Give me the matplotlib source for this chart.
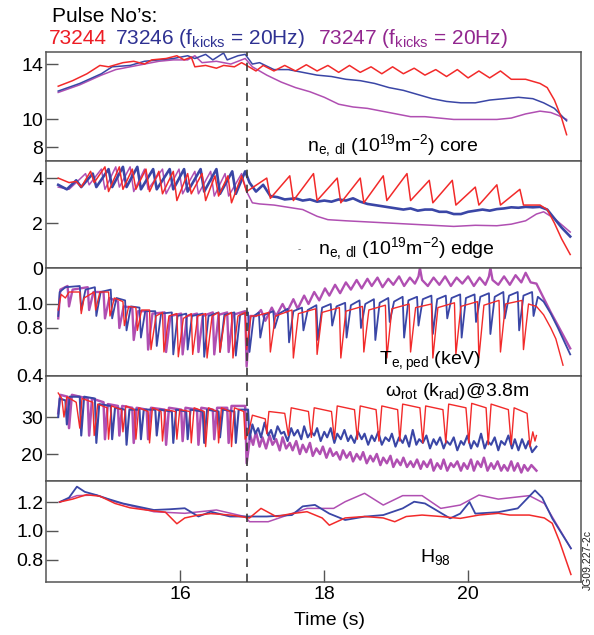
import numpy as np
import matplotlib
matplotlib.use("Agg")
import matplotlib.pyplot as plt

plt.rcParams['font.family'] = ['Liberation Sans', 'DejaVu Sans']
plt.rcParams['mathtext.default'] = 'regular'

# ---------------- data (time s, value) ----------------
time_ticks = [16, 18, 20]
time_tick_labels = ["16", "18", "20"]
dashed_time = 16.92

# panel 1: core line-integrated density
core_ticks = [8, 10, 14]
core_labels = ["8", "10", "14"]
red_core = [(14.30,12.4),(14.5,12.8),(14.7,13.3),(14.88,13.9),(15.0,13.8),(15.2,14.1),(15.35,14.2),(15.5,14.0),
            (15.6,14.3),(15.8,14.4),(15.95,14.6),(16.05,14.3),(16.15,14.5),(16.2,13.8),(16.35,13.9),(16.5,13.7),
            (16.6,13.9),(16.75,13.8),(16.85,14.1),(16.92,13.9),(17.05,13.5),(17.15,13.9),(17.3,13.5),(17.45,13.9),
            (17.6,13.5),(17.75,13.95),(17.9,13.5),(18.05,13.9),(18.2,13.4),(18.35,13.9),(18.5,13.4),(18.65,13.8),
            (18.8,13.3),(18.95,13.8),(19.1,13.3),(19.25,13.7),(19.4,13.2),(19.55,13.6),(19.7,13.1),(19.85,13.6),
            (20.0,13.0),(20.15,13.5),(20.3,13.0),(20.45,13.5),(20.6,12.9),(20.8,12.9),(21.0,12.6),(21.1,12.3),
            (21.2,11.4),(21.3,10.1),(21.37,8.9)]
blue_core = [(14.30,12.05),(14.6,12.6),(14.9,13.3),(15.05,13.8),(15.3,13.9),(15.5,14.2),(15.7,14.3),(15.9,14.4),
             (16.1,14.6),(16.2,14.4),(16.35,14.7),(16.45,14.3),(16.6,14.8),(16.65,14.3),(16.8,14.6),(16.9,14.7),
             (17.0,14.0),(17.1,14.1),(17.3,13.6),(17.5,13.6),(17.7,13.4),(17.9,13.2),(18.1,13.1),(18.3,12.9),
             (18.5,12.8),(18.7,12.6),(18.9,12.3),(19.1,12.1),(19.3,11.8),(19.5,11.5),(19.7,11.3),(19.9,11.2),
             (20.1,11.2),(20.3,11.4),(20.5,11.5),(20.7,11.6),(20.9,11.5),(21.05,11.2),(21.2,10.8),(21.37,9.9)]
purple_core = [(14.30,11.95),(14.6,12.5),(14.9,13.2),(15.1,13.6),(15.3,13.8),(15.5,14.0),(15.7,14.2),(15.9,14.3),
               (16.1,14.3),(16.2,14.6),(16.3,14.1),(16.5,14.2),(16.7,14.0),(16.9,14.4),(17.0,13.8),(17.2,13.2),
               (17.4,12.7),(17.6,12.3),(17.8,12.0),(18.0,11.6),(18.2,11.1),(18.4,10.9),(18.6,10.8),(18.8,10.6),
               (19.0,10.4),(19.2,10.2),(19.4,10.2),(19.6,10.1),(19.8,10.0),(20.0,10.0),(20.2,10.0),(20.4,10.0),
               (20.6,10.1),(20.8,10.4),(21.0,10.6),(21.15,10.5),(21.25,10.3),(21.37,10.0)]

# panel 2: edge line-integrated density
edge_ticks = [0, 2, 4]
edge_labels = ["0", "2", "4"]
red_edge = [(14.30,4.0),(14.45,3.8),(14.55,3.85),(14.62,3.6),(14.75,4.3),(14.80,3.8),(14.95,4.5),(15.00,3.4),
            (15.15,4.5),(15.20,3.5),(15.33,4.4),(15.38,3.5),(15.52,4.4),(15.57,3.4),(15.70,4.3),(15.75,3.3),
            (15.90,4.3),(15.95,3.0),(16.10,4.2),(16.15,3.3),(16.30,4.2),(16.35,3.0),(16.48,4.1),(16.53,3.2),
            (16.66,4.1),(16.71,2.9),(16.85,4.1),(16.92,3.4),(17.20,4.0),(17.25,3.1),(17.52,4.1),(17.57,3.0),
            (17.85,4.2),(17.90,3.0),(18.18,4.0),(18.23,2.9),(18.50,4.0),(18.55,2.9),(18.82,4.1),(18.87,3.0),
            (19.15,4.2),(19.20,3.0),(19.46,3.9),(19.51,2.9),(19.78,3.9),(19.83,2.8),(20.10,3.6),(20.15,2.8),
            (20.40,3.7),(20.45,2.8),(20.72,3.5),(20.77,2.8),(21.0,2.8),(21.1,2.6),(21.2,2.0),(21.3,1.3),(21.42,0.6)]
blue_edge = [(14.30,3.7),(14.42,3.5),(14.55,3.9),(14.62,3.6),(14.78,4.2),(14.83,3.6),(15.0,4.4),(15.05,3.6),
             (15.2,4.5),(15.25,3.6),(15.40,4.5),(15.45,3.5),(15.62,4.4),(15.67,3.5),(15.85,4.4),(15.90,3.5),
             (16.05,4.4),(16.10,3.4),(16.28,4.4),(16.33,3.4),(16.50,4.4),(16.55,3.3),(16.72,4.3),(16.77,3.3),
             (16.90,4.3),(16.96,3.8),(17.05,3.4),(17.15,3.7),(17.25,3.2),(17.35,3.15),(17.45,3.05),(17.6,3.1),
             (17.7,3.0),(17.8,3.05),(17.9,2.95),(18.0,3.0),(18.1,2.95),(18.2,3.05),(18.3,3.0),(18.4,3.1),
             (18.5,2.95),(18.6,2.85),(18.7,2.8),(18.8,2.75),(18.9,2.7),(19.0,2.65),(19.1,2.6),(19.2,2.65),
             (19.3,2.55),(19.4,2.6),(19.5,2.6),(19.6,2.5),(19.7,2.5),(19.8,2.4),(19.9,2.4),(20.0,2.5),(20.1,2.55),
             (20.2,2.6),(20.3,2.55),(20.4,2.62),(20.5,2.65),(20.6,2.7),(20.7,2.68),(20.8,2.72),(20.9,2.7),
             (21.0,2.72),(21.1,2.6),(21.2,2.2),(21.3,1.8),(21.42,1.4)]
purple_edge = [(14.30,3.6),(14.45,3.5),(14.55,3.8),(14.68,4.2),(14.73,3.7),(14.90,4.4),(14.95,3.5),(15.1,4.5),
               (15.15,3.6),(15.3,4.5),(15.35,3.4),(15.5,4.4),(15.55,3.5),(15.75,4.4),(15.8,3.3),(15.98,4.4),
               (16.03,3.3),(16.2,4.3),(16.25,3.3),(16.42,4.3),(16.47,3.2),(16.62,4.2),(16.67,3.2),(16.85,4.2),
               (16.92,3.4),(17.0,2.9),(17.1,2.85),(17.3,2.8),(17.5,2.7),(17.7,2.6),(17.9,2.3),(18.05,2.15),
               (18.3,2.1),(18.6,2.05),(18.9,2.0),(19.2,1.95),(19.5,1.9),(19.8,1.85),(20.1,1.9),(20.4,1.88),
               (20.6,1.95),(20.8,2.1),(20.95,2.4),(21.05,2.5),(21.2,2.2),(21.42,1.6)]

# panel 3: pedestal electron temperature
te_ticks = [0.4, 0.8, 1.0]
te_labels = ["0.4", "0.8", "1.0"]
red_te = [(14.30,0.95),(14.34,1.08),(14.40,1.05),(14.45,1.1),(14.6,1.1),(14.62,0.92),(14.66,1.05),(14.80,1.1),
          (14.82,0.95),(14.88,1.1),(15.0,1.1),(15.02,0.9),(15.08,1.05),(15.2,1.02),(15.22,0.82),(15.28,0.98),
          (15.38,0.97),(15.40,0.78),(15.46,0.95),(15.57,0.95),(15.59,0.62),(15.66,0.9),(15.75,0.93),(15.77,0.6),
          (15.84,0.9),(15.95,0.92),(15.97,0.56),(16.04,0.88),(16.15,0.92),(16.17,0.58),(16.24,0.9),(16.35,0.92),
          (16.37,0.55),(16.44,0.9),(16.53,0.93),(16.55,0.6),(16.62,0.9),(16.71,0.93),(16.73,0.55),(16.80,0.9),
          (16.90,0.93),(16.92,0.62),(16.98,0.9),(17.05,0.9),(17.23,0.93),(17.25,0.6),(17.32,0.9),(17.55,0.95),
          (17.57,0.55),(17.64,0.92),(17.88,0.96),(17.90,0.58),(17.97,0.93),(18.21,0.97),(18.23,0.55),(18.30,0.94),
          (18.53,0.98),(18.55,0.6),(18.62,0.95),(18.85,0.99),(18.87,0.55),(18.94,0.96),(19.18,1.0),(19.20,0.6),
          (19.27,0.97),(19.49,1.0),(19.51,0.55),(19.58,0.97),(19.81,1.01),(19.83,0.58),(19.90,0.98),(20.13,1.02),
          (20.15,0.55),(20.22,0.99),(20.43,1.03),(20.45,0.6),(20.52,1.0),(20.75,1.03),(20.77,0.62),(20.84,1.0),
          (20.95,0.98),(21.05,0.91),(21.15,0.8),(21.22,0.71),(21.32,0.49)]
blue_te = [(14.30,0.9),(14.32,1.1),(14.4,1.14),(14.6,1.15),(14.62,0.95),(14.68,1.12),(14.81,1.14),(14.83,0.9),
           (14.89,1.1),(15.03,1.12),(15.05,0.88),(15.11,1.05),(15.23,1.03),(15.25,0.78),(15.31,0.98),(15.43,0.97),
           (15.45,0.72),(15.51,0.94),(15.65,0.94),(15.67,0.65),(15.73,0.92),(15.88,0.93),(15.90,0.58),(15.96,0.9),
           (16.08,0.92),(16.10,0.62),(16.16,0.9),(16.31,0.92),(16.33,0.56),(16.39,0.9),(16.53,0.93),(16.55,0.6),
           (16.61,0.91),(16.75,0.93),(16.77,0.57),(16.83,0.91),(16.94,0.93),(16.96,0.6),(17.02,0.9),
           (17.09,0.93),(17.11,0.72),(17.17,0.91),(17.29,0.94),(17.31,0.8),(17.37,0.92),(17.49,0.96),(17.51,0.68),
           (17.57,0.94),(17.69,0.97),(17.71,0.78),(17.77,0.95),(17.89,0.99),(17.91,0.7),(17.97,0.97),(18.09,1.0),
           (18.11,0.82),(18.17,0.98),(18.29,1.01),(18.31,0.72),(18.37,0.99),(18.49,1.03),(18.51,0.8),(18.57,1.0),
           (18.69,1.04),(18.71,0.7),(18.77,1.01),(18.89,1.05),(18.91,0.85),(18.97,1.02),(19.09,1.06),(19.11,0.72),
           (19.17,1.03),(19.29,1.06),(19.31,0.82),(19.37,1.04),(19.49,1.07),(19.51,0.75),(19.57,1.04),(19.69,1.07),
           (19.71,0.88),(19.77,1.05),(19.89,1.08),(19.91,0.72),(19.97,1.05),(20.09,1.08),(20.11,0.85),(20.17,1.06),
           (20.29,1.09),(20.31,0.75),(20.37,1.06),(20.49,1.1),(20.51,0.88),(20.57,1.07),(20.69,1.1),(20.71,0.78),
           (20.77,1.07),(20.89,1.1),(20.91,0.9),(20.97,1.06),(21.05,1.02),(21.15,0.92),(21.25,0.8),(21.42,0.58)]
purple_te = [(14.30,0.88),(14.33,1.12),(14.43,1.15),(14.45,0.98),(14.5,1.12),(14.71,1.14),(14.73,0.95),(14.79,1.1),
             (14.93,1.1),(14.95,0.88),(15.01,1.05),(15.13,1.02),(15.15,0.8),(15.21,0.98),(15.33,0.97),(15.35,0.7),
             (15.41,0.94),(15.53,0.94),(15.55,0.62),(15.61,0.92),(15.78,0.93),(15.80,0.6),(15.86,0.9),(16.01,0.92),
             (16.03,0.58),(16.09,0.9),(16.23,0.92),(16.25,0.6),(16.31,0.9),(16.45,0.93),(16.47,0.58),(16.53,0.91),
             (16.65,0.93),(16.67,0.6),(16.73,0.91),(16.90,0.94),(16.92,0.48),(16.97,0.9),(17.05,0.9),(17.12,0.95),
             (17.18,0.86),(17.27,0.97),(17.33,0.9),(17.42,1.0),(17.48,0.93),(17.57,1.04),(17.63,0.96),(17.72,1.07),
             (17.78,1.0),(17.86,1.1),(17.93,1.03),(18.01,1.13),(18.07,1.07),(18.15,1.16),(18.22,1.09),(18.3,1.18),
             (18.37,1.12),(18.45,1.2),(18.52,1.13),(18.6,1.21),(18.66,1.15),(18.74,1.22),(18.81,1.14),(18.89,1.21),
             (18.96,1.16),(19.04,1.23),(19.11,1.15),(19.19,1.22),(19.26,1.17),(19.31,1.23),(19.33,1.3),(19.36,1.2),
             (19.44,1.15),(19.52,1.22),(19.6,1.16),(19.68,1.23),(19.76,1.15),(19.84,1.22),(19.92,1.17),(20.0,1.23),
             (20.08,1.15),(20.16,1.22),(20.24,1.16),(20.29,1.23),(20.31,1.3),(20.34,1.2),(20.42,1.16),(20.5,1.23),
             (20.58,1.16),(20.66,1.24),(20.74,1.18),(20.8,1.26),(20.87,1.18),(20.95,1.17),(21.05,1.05),(21.15,0.93),
             (21.25,0.82),(21.42,0.63)]

# panel 4: rotation
rot_ticks = [20, 30]
rot_labels = ["20", "30"]
red_rot = [(14.30,36.5),(14.35,35),(14.38,30),(14.42,35.5),(14.55,34),(14.6,27),(14.63,35),(14.78,34),(14.8,25),
           (14.85,33.5),(14.98,32.5),(15.0,24),(15.04,33),(15.18,32),(15.2,26),(15.24,33),(15.36,32),(15.38,24),
           (15.42,32.5),(15.55,31.5),(15.57,23),(15.61,32.5),(15.73,31.5),(15.75,23.5),(15.79,32),(15.93,31.5),
           (15.95,24),(15.99,32),(16.13,31.5),(16.15,23),(16.19,32.5),(16.33,31.5),(16.35,22),(16.39,32.5),
           (16.51,31.5),(16.53,23),(16.57,32.5),(16.69,31.5),(16.71,22),(16.75,32.5),(16.88,31.5),(16.9,24),
           (16.95,26),(17.0,30.5),(17.18,29.5),(17.2,25.5),(17.23,31.5),(17.45,31),(17.5,25),(17.54,32.5),
           (17.78,31.5),(17.82,24.5),(17.86,32.5),(18.1,31.5),(18.14,24),(18.18,33),(18.42,32),(18.46,24),(18.5,33),
           (18.72,32),(18.76,23.5),(18.8,33),(19.02,32),(19.05,23.5),(19.09,33.5),(19.33,32.5),(19.37,23),(19.41,33),
           (19.65,32),(19.69,23),(19.73,33.5),(19.97,32.5),(20.01,23),(20.05,33.7),(20.25,32.5),(20.28,22.5),
           (20.32,33.5),(20.56,32),(20.6,22.5),(20.64,32.5),(20.82,31),(20.86,22),(20.9,26),(20.93,23.5),(20.95,25)]
blue_rot = [(14.30,30),(14.32,35),(14.4,34.5),(14.42,28),(14.46,35.5),(14.6,35.5),(14.62,25),(14.66,35.5),(14.81,35),
            (14.83,23),(14.87,33.5),(15.03,33),(15.05,24),(15.09,32.5),(15.23,32),(15.25,22.5),(15.29,32),(15.43,32),
            (15.45,24),(15.49,32),(15.65,32),(15.67,25),(15.71,32),(15.88,31.5),(15.90,23),(15.94,32),(16.08,31.5),
            (16.10,24),(16.14,32),(16.31,31.5),(16.33,23),(16.37,32),(16.53,31.5),(16.55,24.5),(16.59,32),
            (16.75,31.5),(16.77,23),(16.81,32),(16.94,32),(16.96,24),
            (17.0,28),(17.04,25.5),(17.08,27),(17.12,24.5),(17.17,28.5),(17.22,25),(17.26,26.5),(17.3,24),
            (17.35,27.5),(17.4,25.5),(17.44,26),(17.49,23.5),(17.54,27),(17.58,25),(17.63,26.5),(17.68,24),
            (17.72,27.5),(17.77,24.5),(17.82,26),(17.86,25),(17.9,27),(17.95,23.5),(18.0,26),(18.04,24.5),(18.09,27),
            (18.14,23),(18.18,25.5),(18.23,24),(18.28,26.5),(18.33,23.5),(18.37,25),(18.42,23),(18.47,26),(18.52,24),
            (18.56,25.5),(18.61,22.5),(18.66,25),(18.7,23.5),(18.75,26),(18.8,22.5),(18.85,24.5),(18.9,23.5),
            (18.94,25.5),(18.99,22),(19.04,24.5),(19.09,23),(19.13,25),(19.18,22),(19.23,26.5),(19.28,22.5),
            (19.32,24),(19.37,23),(19.42,25),(19.47,21.5),(19.52,24),(19.56,22.5),(19.61,24.5),(19.66,21.5),
            (19.7,23.5),(19.75,22.5),(19.8,24.5),(19.85,21),(19.9,23.5),(19.94,22.5),(19.99,25),(20.04,21.5),
            (20.08,23.5),(20.13,22),(20.18,25.5),(20.23,21.5),(20.27,23.5),(20.32,22.5),(20.37,24.5),(20.42,21),
            (20.46,23.5),(20.51,22.5),(20.56,25),(20.61,21.5),(20.65,24),(20.7,21),(20.75,24),(20.8,21.5),
            (20.84,23.5),(20.89,20.5),(20.95,22)]
purple_rot = [(14.30,31),(14.33,36),(14.43,35.5),(14.45,27),(14.49,36),(14.71,35),(14.73,25),(14.77,35),(14.93,34),
              (14.95,24),(14.99,33.5),(15.13,33),(15.15,25),(15.19,33),(15.33,32.5),(15.35,23),(15.39,32.5),
              (15.53,32),(15.55,24),(15.59,32.5),(15.78,32),(15.80,22.5),(15.84,32.5),(16.01,32),(16.03,23.5),
              (16.07,32.5),(16.23,32),(16.25,22.5),(16.29,32.5),(16.45,32),(16.47,24),(16.51,32.5),(16.65,32.5),
              (16.67,23),(16.71,33),(16.90,33),(16.92,17.5),
              (16.97,25),(17.01,22.5),(17.05,26),(17.1,22),(17.14,24.5),(17.19,21.5),(17.24,25),(17.28,22.5),
              (17.33,24),(17.38,21),(17.42,24.5),(17.47,21.5),(17.52,23),(17.56,21),(17.61,23.5),(17.66,20),
              (17.7,22.5),(17.75,20.5),(17.8,23),(17.84,19.5),(17.89,21.5),(17.94,20),(17.98,22),(18.03,19),
              (18.08,21.5),(18.12,19.5),(18.17,20.5),(18.22,18.5),(18.26,21),(18.31,19),(18.36,20.5),(18.4,18),
              (18.45,20),(18.5,18.5),(18.54,20.5),(18.59,17.5),(18.64,19.5),(18.68,18),(18.73,20),(18.78,17),
              (18.82,19),(18.87,17.5),(18.92,19.5),(18.96,16.5),(19.01,18.5),(19.06,17),(19.1,19),(19.15,16.5),
              (19.2,18),(19.24,16.5),(19.29,18.5),(19.34,16),(19.38,18),(19.43,16.5),(19.48,18.5),(19.52,15.5),
              (19.57,17.5),(19.62,16),(19.66,18.5),(19.71,15.5),(19.76,17.5),(19.8,16.5),(19.85,18),(19.9,15.5),
              (19.94,17.5),(19.99,16),(20.04,18.5),(20.08,15.5),(20.13,18),(20.18,16.5),(20.22,19),(20.27,15.5),
              (20.32,17.5),(20.36,16),(20.41,18),(20.46,15.5),(20.5,17),(20.55,15.5),(20.6,18),(20.64,15.5),
              (20.69,17.5),(20.74,15),(20.78,17),(20.83,15.5),(20.88,17),(20.95,15.5)]

# panel 5: H98
h_ticks = [0.8, 1.0, 1.2]
h_labels = ["0.8", "1.0", "1.2"]
red_h = [(14.32,1.2),(14.5,1.22),(14.69,1.25),(14.88,1.24),(15.09,1.19),(15.3,1.16),(15.52,1.145),(15.79,1.13),
         (15.95,1.05),(16.06,1.09),(16.25,1.11),(16.42,1.12),(16.7,1.11),(16.96,1.09),(17.12,1.156),(17.33,1.1),
         (17.55,1.12),(17.76,1.133),(17.97,1.09),(18.07,1.04),(18.29,1.09),(18.56,1.1),(18.82,1.09),(18.98,1.064),
         (19.14,1.1),(19.36,1.11),(19.62,1.1),(19.89,1.087),(20.15,1.11),(20.42,1.122),(20.58,1.11),(20.85,1.11),
         (21.06,1.09),(21.17,1.053),(21.27,0.93),(21.43,0.70)]
blue_h = [(14.32,1.2),(14.45,1.23),(14.56,1.306),(14.67,1.27),(14.83,1.248),(15.0,1.22),(15.2,1.19),(15.63,1.145),
          (15.85,1.15),(16.06,1.157),(16.25,1.1),(16.42,1.133),(16.69,1.1),(16.96,1.1),(17.2,1.1),(17.55,1.11),
          (17.7,1.17),(17.87,1.18),(18.07,1.12),(18.29,1.076),(18.56,1.099),(18.82,1.11),(19.09,1.156),(19.25,1.202),
          (19.4,1.19),(19.75,1.087),(19.89,1.12),(20.02,1.2),(20.1,1.12),(20.42,1.13),(20.69,1.156),(20.93,1.28),
          (21.03,1.23),(21.17,1.087),(21.43,0.88)]
purple_h = [(14.32,1.2),(14.56,1.244),(14.83,1.248),(15.09,1.202),(15.63,1.133),(16.06,1.122),(16.5,1.145),
            (16.9,1.099),(16.96,1.064),(17.22,1.064),(17.49,1.11),(17.76,1.156),(18.13,1.156),(18.29,1.202),
            (18.56,1.26),(18.82,1.179),(19.09,1.244),(19.36,1.244),(19.62,1.156),(19.89,1.179),(20.15,1.248),
            (20.42,1.22),(20.85,1.244),(21.06,1.19),(21.43,0.88)]

# ---------------- styling ----------------
RED, BLUE, PURPLE = '#f22a2a', '#3a46a6', '#b04fb2'
RED_T, BLUE_T, PURPLE_T = '#ed1c24', '#2e3192', '#92278f'
SPINE = '#555555'
W, H = 594, 635

fig = plt.figure(figsize=(W / 100, H / 100), dpi=100)

# panel pixel extents (top, bottom)
panel_px = [(52, 161), (161, 268), (268, 376), (376, 481), (481, 582)]
x_left, x_right = 46, 581
ylims = [(7.0, 14.87), (0.0, 4.76), (0.4, 1.3), (12.7, 41.1), (0.648, 1.345)]
xlim = (14.13, 21.57)

panels = [
    (red_core, blue_core, purple_core, core_ticks, core_labels, (1.1, 1.1, 1.1)),
    (red_edge, blue_edge, purple_edge, edge_ticks, edge_labels, (1.1, 1.9, 1.1)),
    (red_te, blue_te, purple_te, te_ticks, te_labels, (1.0, 1.3, 1.7)),
    (red_rot, blue_rot, purple_rot, rot_ticks, rot_labels, (1.0, 1.5, 1.8)),
    (red_h, blue_h, purple_h, h_ticks, h_labels, (1.1, 1.3, 1.1)),
]

axes = []
for i, ((top, bot), (r, b, p, ticks, labels, lws)) in enumerate(zip(panel_px, panels)):
    ax = fig.add_axes([x_left / W, 1 - bot / H, (x_right - x_left) / W, (bot - top) / H])
    axes.append(ax)
    for series, col, lw in ((p, PURPLE, lws[2]), (b, BLUE, lws[1]), (r, RED, lws[0])):
        arr = np.array(series)
        ax.plot(arr[:, 0], arr[:, 1], color=col, lw=lw)
    ax.axvline(dashed_time, color='#3a3a3a', lw=1.2, ls=(0, (5, 4)), zorder=5)
    ax.set_xlim(*xlim)
    ax.set_ylim(*ylims[i])
    ax.set_yticks(ticks)
    ax.set_yticklabels(labels)
    ax.tick_params(axis='y', direction='in', length=8.5, width=1.0, color=SPINE,
                   labelsize=14, pad=2, right=False)
    if i < 4:
        ax.tick_params(axis='x', bottom=False, labelbottom=False, top=False)
    else:
        ax.set_xticks(time_ticks)
        ax.set_xticklabels(time_tick_labels)
        ax.tick_params(axis='x', direction='in', length=8.5, width=1.0, color=SPINE,
                       labelsize=14, pad=3, top=False)
    for s in ax.spines.values():
        s.set_color(SPINE)
        s.set_linewidth(1.1)

axes[4].set_xlabel("Time (s)", fontsize=14)
axes[4].xaxis.set_label_coords((330 - x_left) / (x_right - x_left), -0.30)
axes[4].xaxis.label.set_va('top')


def ftext(x, y, s, **kw):
    fig.text(x / W, 1 - y / H, s, va='center', ha='left', **kw)


# header
ftext(52, 16, "Pulse No\u2019s:", fontsize=15, color='black')
ftext(49, 38, "73244", fontsize=15, color=RED_T)
ftext(115, 38, "73246 (f$_{kicks}$ = 20Hz)", fontsize=15, color=BLUE_T)
ftext(318, 38, "73247 (f$_{kicks}$ = 20Hz)", fontsize=15, color=PURPLE_T)

# panel annotations
ftext(307, 146, "n$_{e,\\,dl}$ (10$^{19}$m$^{-2}$) core", fontsize=14)
ftext(298, 249, "-", fontsize=7, color='#666666')
ftext(318, 249, "n$_{e,\\,dl}$ (10$^{19}$m$^{-2}$) edge", fontsize=14)
ftext(379, 361, "T$_{e,ped}$ (keV)", fontsize=14)
ftext(385, 392, "\u03c9$_{rot}$ (k$_{rad}$)@3.8m", fontsize=14)
ftext(420, 557, "H$_{98}$", fontsize=14)

fig.text(588 / W, 1 - 560 / H, "JG09.227-2c", rotation=90, fontsize=7.5,
         va='center', ha='center', color='#222222')

fig.savefig("out.png", dpi=100)
